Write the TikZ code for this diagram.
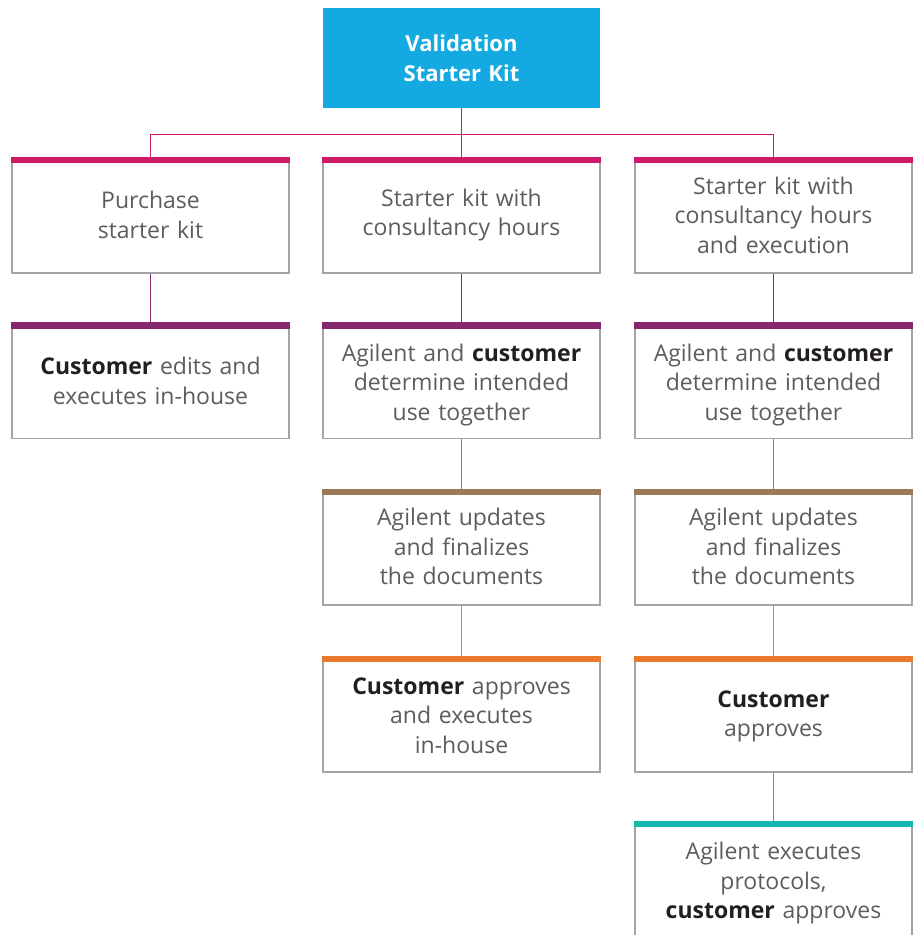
\documentclass[tikz,border=0pt]{standalone}
\usepackage{fontspec}
\setmainfont{Open Sans}
\definecolor{kitblue}{HTML}{15A9E1}
\definecolor{cmag}{HTML}{D01A6A}
\definecolor{cpur}{HTML}{86276F}
\definecolor{cbrown}{HTML}{9B7A5A}
\definecolor{corange}{HTML}{E8792A}
\definecolor{cteal}{HTML}{14B8B1}
\definecolor{boxgray}{HTML}{A3A3A8}
\definecolor{txtgray}{HTML}{5C5D60}
\definecolor{txtdark}{HTML}{231F20}
\newcommand{\dk}[1]{{\bfseries\color{txtdark}#1}}
\begin{document}
\begin{tikzpicture}[x=1pt,y=-1pt,
  stepbox/.style={rectangle, draw=boxgray, line width=1.3pt, fill=white,
    minimum width=277pt, minimum height=115pt, inner sep=0pt},
  steptext/.style={inner sep=0pt, text width=270pt, align=center, text=txtgray,
    font=\fontsize{23}{29.5}\selectfont},
  topbox/.style={rectangle, fill=kitblue, minimum width=277pt, minimum height=100pt,
    inner sep=0pt, text width=265pt, align=center, text=white,
    font=\fontsize{22}{29.5}\selectfont\bfseries},
  conn/.style={line width=1.6pt}]
\clip (0,0) rectangle (914,935);
\useasboundingbox (0,0) rectangle (914,935);
% junction coordinates
\coordinate (jL) at (150.5,134.5);
\coordinate (jM) at (461.5,134.5);
\coordinate (jR) at (773.5,134.5);
% boxes
\node[topbox] (top) at (461.5,58) {Validation\\Starter Kit};
\node[stepbox] (b11) at (150.5,215.5) {};
\node[stepbox] (b12) at (461.5,215.5) {};
\node[stepbox] (b13) at (773.5,215.5) {};
\node[stepbox] (b21) at (150.5,381) {};
\node[stepbox] (b22) at (461.5,381) {};
\node[stepbox] (b23) at (773.5,381) {};
\node[stepbox] (b32) at (461.5,547.5) {};
\node[stepbox] (b33) at (773.5,547.5) {};
\node[stepbox] (b42) at (461.5,714.5) {};
\node[stepbox] (b43) at (773.5,714.5) {};
\node[stepbox] (b53) at (773.5,879.5) {};
% texts
\node[steptext] (t11) at (150.5,215) {Purchase\\starter kit};
\node[steptext] (t12) at (461.5,215) {Starter kit with\\consultancy hours};
\node[steptext] (t13) at (773.5,215) {Starter kit with\\consultancy hours\\and execution};
\node[steptext] (t21) at (150.5,381) {\dk{Customer} edits and\\executes in-house};
\node[steptext] (t22) at (461.5,385) {Agilent and \dk{customer}\\determine intended\\use together};
\node[steptext] (t23) at (773.5,385) {Agilent and \dk{customer}\\determine intended\\use together};
\node[steptext] (t32) at (461.5,546.5) {Agilent updates\\and finalizes\\the documents};
\node[steptext] (t33) at (773.5,546.5) {Agilent updates\\and finalizes\\the documents};
\node[steptext] (t42) at (461.5,715.5) {\dk{Customer} approves\\and executes\\in-house};
\node[steptext] (t43) at (773.5,716.5) {\dk{Customer}\\approves};
\node[steptext] (t53) at (773.5,883.5) {Agilent executes\\protocols,\\\dk{customer} approves};
% connectors
\draw[conn, cmag] (top.south) -- (jM) -- (b12.north);
\draw[conn, cmag] (b11.north) -- (jL) -- (jR) -- (b13.north);
\draw[conn, cpur] (b11.south) -- (b21.north);
\draw[conn, cpur] (b12.south) -- (b22.north);
\draw[conn, cpur] (b13.south) -- (b23.north);
\draw[conn, cbrown] (b22.south) -- (b32.north);
\draw[conn, cbrown] (b23.south) -- (b33.north);
\draw[conn, corange] (b32.south) -- (b42.north);
\draw[conn, corange] (b33.south) -- (b43.north);
\draw[conn, cteal] (b43.south) -- (b53.north);
% top bars
\foreach \n/\c in {b11/cmag,b12/cmag,b13/cmag,b21/cpur,b22/cpur,b23/cpur,b32/cbrown,b33/cbrown,b42/corange,b43/corange,b53/cteal}{
  \fill[\c] ([xshift=-0.65pt,yshift=0.65pt]\n.north west) rectangle ([xshift=0.65pt,yshift=-6pt]\n.north east);
}
\end{tikzpicture}
\end{document}
